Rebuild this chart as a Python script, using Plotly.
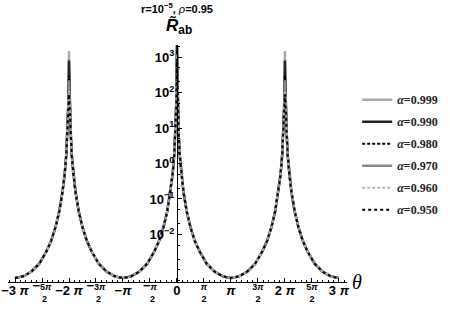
import math
import plotly.graph_objects as go

PI = math.pi

# ---------------- data ----------------
alphas = ["0.999", "0.990", "0.980", "0.970", "0.960", "0.950"]

# theta in units of pi
theta_pi = [
    -3.0, -2.85, -2.7, -2.55, -2.42, -2.33, -2.25, -2.18, -2.12, -2.08, -2.05, -2.03, -2.015, -2.0,
    -1.985, -1.97, -1.95, -1.92, -1.88, -1.82, -1.75, -1.67, -1.58, -1.45, -1.3, -1.15, -1.0,
    -0.85, -0.7, -0.55, -0.42, -0.33, -0.25, -0.18, -0.12, -0.08, -0.05, -0.03, -0.015, 0.0,
    0.015, 0.03, 0.05, 0.08, 0.12, 0.18, 0.25, 0.33, 0.42, 0.55, 0.7, 0.85, 1.0,
    1.15, 1.3, 1.45, 1.58, 1.67, 1.75, 1.82, 1.88, 1.92, 1.95, 1.97, 1.985, 2.0,
    2.015, 2.03, 2.05, 2.08, 2.12, 2.18, 2.25, 2.33, 2.42, 2.55, 2.7, 2.85, 3.0,
]

# common tail shared by all alpha values (None = near-peak points that differ per alpha)
base_R = [
    5.9e-4, 6.6e-4, 8.9e-4, 1.5e-3, 3.3e-3, 6.6e-3, 1.6e-2, 4.5e-2, 0.16, 0.50, 1.8, 7.9, None, None,
    None, 7.9, 1.8, 0.50, 0.16, 4.5e-2, 1.6e-2, 6.6e-3, 3.3e-3, 1.5e-3, 8.9e-4, 6.6e-4, 5.9e-4,
    6.6e-4, 8.9e-4, 1.5e-3, 3.3e-3, 6.6e-3, 1.6e-2, 4.5e-2, 0.16, 0.50, 1.8, 7.9, None, None,
    None, 7.9, 1.8, 0.50, 0.16, 4.5e-2, 1.6e-2, 6.6e-3, 3.3e-3, 1.5e-3, 8.9e-4, 6.6e-4, 5.9e-4,
    6.6e-4, 8.9e-4, 1.5e-3, 3.3e-3, 6.6e-3, 1.6e-2, 4.5e-2, 0.16, 0.50, 1.8, 7.9, None, None,
    None, 7.9, 1.8, 0.50, 0.16, 4.5e-2, 1.6e-2, 6.6e-3, 3.3e-3, 1.5e-3, 8.9e-4, 6.6e-4, 5.9e-4,
]

shoulder_R = [45, 40, 36, 34, 32, 30]              # at 0.015*pi from each peak
peak_side_R = [1480, 800, 300, 220, 110, 90]        # at theta = +-2pi
peak_center_R = [4000, 2500, 1500, 1200, 1000, 900] # at theta = 0

whole_ticks_pi = [-3, -2, -1, 0, 1, 2, 3]
whole_tick_text = ["−3 <i>π</i>", "−2 <i>π</i>", "−<i>π</i>", "0", "<i>π</i>", "2 <i>π</i>", "3 <i>π</i>"]
frac_ticks_pi = [-2.5, -1.5, -0.5, 0.5, 1.5, 2.5]
frac_tick_text = ["<span style='font-size:13px'>−</span>5<i>π</i><br>  2",
                  "<span style='font-size:13px'>−</span>3<i>π</i><br>  2",
                  "<span style='font-size:13px'>−</span><i>π</i><br>  2",
                  "<i>π</i><br>2", "3<i>π</i><br>2", "5<i>π</i><br>2"]
y_ticks = [1e-2, 1e-1, 1, 10, 100, 1000]
y_tick_text = ["10<sup>−2</sup>", "10<sup>−1</sup>", "10<sup>0</sup>", "10<sup>1</sup>",
               "10<sup>2</sup>", "10<sup>3</sup>"]

# ---------------- styles ----------------
colors = ["#a8a8a8", "#222222", "#000000", "#8a8a8a", "#b4b4b4", "#000000"]
dashes = ["solid", "solid", "3px,2px", "solid", "3px,2px", "3px,3px"]
widths = [2.4, 2.4, 2.0, 2.4, 2.0, 2.0]

fig = go.Figure()
for i, a in enumerate(alphas):
    ys = []
    for t, b in zip(theta_pi, base_R):
        if b is not None:
            ys.append(b)
        elif t == 0.0:
            ys.append(peak_center_R[i])
        elif abs(t) == 2.0:
            ys.append(peak_side_R[i])
        else:
            ys.append(shoulder_R[i])
    fig.add_trace(go.Scatter(
        x=[t * PI for t in theta_pi], y=ys, mode="lines",
        name="<i>α</i>=" + a, legendgroup=a,
        line=dict(color=colors[i], dash=dashes[i], width=widths[i]),
    ))

# carrier trace so the overlaid axis with the fractional tick labels is drawn
fig.add_trace(go.Scatter(x=[None], y=[None], xaxis="x2", yaxis="y", showlegend=False,
                         hoverinfo="skip", mode="lines"))

xmin, xmax = -3.13 * PI, 3.15 * PI
fig.update_layout(
    width=450, height=311,
    margin=dict(l=8, r=103, t=45, b=29, autoexpand=False),
    paper_bgcolor="white", plot_bgcolor="white",
    showlegend=True,
    legend=dict(x=1.03, y=0.83, xanchor="left", yanchor="top",
                font=dict(family="Liberation Serif", size=12, color="#222", weight="bold"),
                tracegroupgap=3, bgcolor="rgba(0,0,0,0)"),
    xaxis=dict(range=[xmin, xmax], showgrid=False, zeroline=False, automargin=False,
               showline=True, linecolor="black", linewidth=1.2,
               tickmode="array", tickvals=[t * PI for t in whole_ticks_pi], ticktext=whole_tick_text,
               ticks="inside", ticklen=4, tickcolor="black", ticklabelstandoff=-4,
               minor=dict(ticks="inside", ticklen=2, dtick=PI / 10, tickcolor="black", showgrid=False),
               tickfont=dict(family="Liberation Sans", size=13, color="black", weight="bold")),
    xaxis2=dict(range=[xmin, xmax], overlaying="x", anchor="y", side="bottom", matches="x",
                showgrid=False, zeroline=False, automargin=False, showline=False,
                tickmode="array", tickvals=[t * PI for t in frac_ticks_pi], ticktext=frac_tick_text,
                ticks="inside", ticklen=4, tickcolor="black", ticklabelstandoff=-2,
                tickfont=dict(family="Liberation Sans", size=9, color="black", weight="bold")),
    yaxis=dict(type="log", range=[-3.34, 3.34], showgrid=False, zeroline=False, automargin=False,
               anchor="free", position=(0 - xmin) / (xmax - xmin),
               showline=True, linecolor="black", linewidth=1.2,
               tickmode="array", tickvals=y_ticks, ticktext=y_tick_text,
               ticks="inside", ticklen=4, tickcolor="black",
               minor=dict(ticks="inside", ticklen=2, tickcolor="black", showgrid=False),
               tickfont=dict(family="Liberation Sans", size=13, color="black", weight="bold")),
    annotations=[
        dict(text="<b>r=10<sup>−5</sup>, </b><i>ρ</i><b>=0.95</b>", x=0, xref="x", y=1.196, yref="paper",
             showarrow=False, font=dict(family="Liberation Sans", size=11, color="black")),
        dict(text="<b><i>R̃</i></b><b><sub>ab</sub></b>", x=0.1, xref="x", y=1.135, yref="paper",
             showarrow=False, font=dict(family="Liberation Sans", size=17, color="black")),
        dict(text="<i>θ</i>", x=1.05, xref="paper", y=-0.055, yref="paper",
             showarrow=False, font=dict(family="Liberation Serif", size=20, color="black")),
    ],
)

fig.write_html("out.html", config={"displayModeBar": False},
               post_script="document.body.style.margin='0px';")
